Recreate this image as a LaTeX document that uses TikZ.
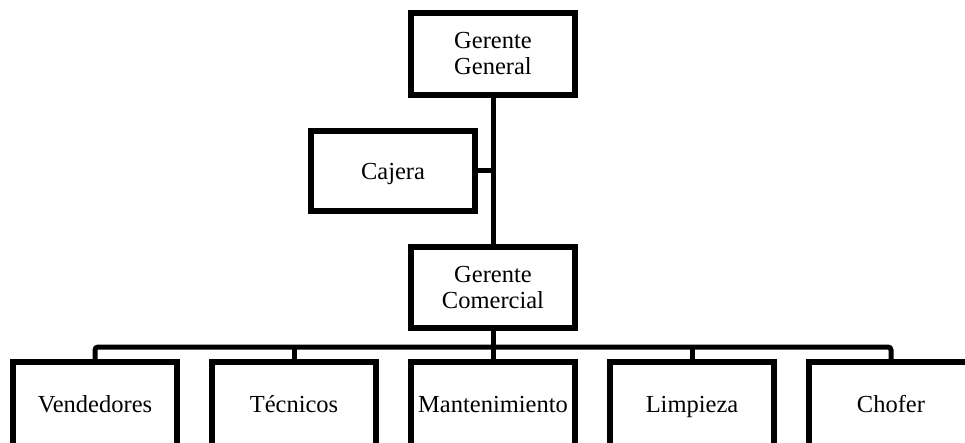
\documentclass[tikz,border=0pt]{standalone}
\usepackage{fontspec}
\setmainfont{Liberation Serif}
\begin{document}
\begin{tikzpicture}[x=1pt,y=-1pt,
  box/.style={draw, line width=6pt, fill=white, inner sep=0pt,
    minimum width=164pt, align=center,
    font=\fontsize{24.5}{26}\selectfont},
  oneline/.style={box, text height=17pt, text depth=0pt},
  conn/.style={line width=5pt}]
\useasboundingbox (0,0) rectangle (965,443);
% top of the chart
\node[box, minimum height=82pt] (gg) at (493,54) {Gerente\\General};
\node[oneline, minimum height=80pt] (caj) at (393,171) {Cajera};
\node[box, minimum height=81pt] (gc) at (493,287.5) {Gerente\\Comercial};
% staff row
\node[oneline, minimum height=84pt] (ven) at (95,404) {Vendedores};
\node[oneline, minimum height=84pt] (tec) at (294,404) {Técnicos};
\node[oneline, minimum height=84pt] (man) at (493,404) {Mantenimiento};
\node[oneline, minimum height=84pt] (lim) at (692,404) {Limpieza};
\node[oneline, minimum height=84pt] (cho) at (891,404) {Chofer};
% connectors
\coordinate (bus) at (493,347);
\draw[conn] (gg.south) -- (gc.north);
\draw[conn] (caj.east) -- (caj.east -| gg.south);
\draw[conn] (gc.south) -- (bus);
\draw[conn, rounded corners=3pt] (ven.north) |- (bus) -| (cho.north);
\draw[conn] (tec.north) -- (tec.north |- bus);
\draw[conn] (man.north) -- (bus);
\draw[conn] (lim.north) -- (lim.north |- bus);
\end{tikzpicture}
\end{document}
